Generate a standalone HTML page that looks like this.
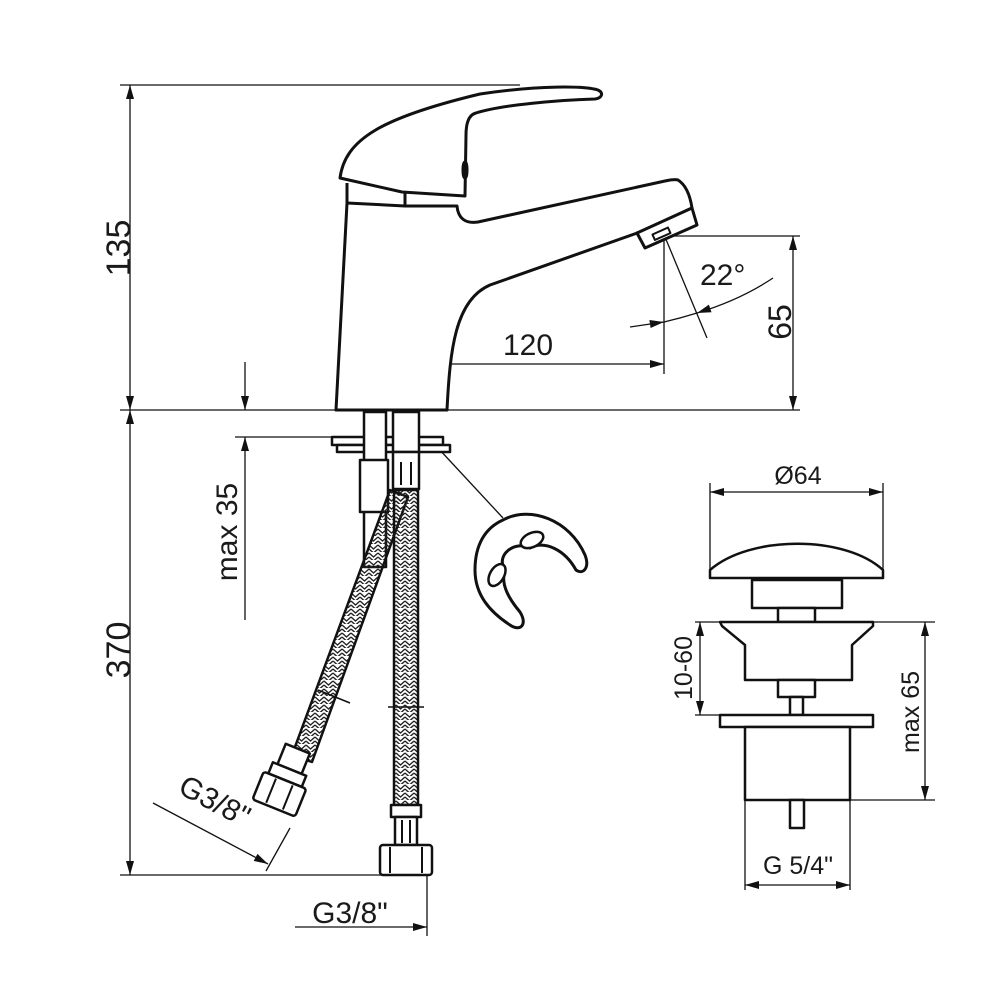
<!DOCTYPE html>
<html><head><meta charset="utf-8"><style>
html,body{margin:0;padding:0;background:#fff}
svg{display:block}
text{font-family:"Liberation Sans","DejaVu Sans",sans-serif;fill:#1a1a1a}
</style></head><body>
<svg width="1000" height="1000" viewBox="0 0 1000 1000" xmlns="http://www.w3.org/2000/svg">
<defs>
<pattern id="br" width="9" height="8" patternUnits="userSpaceOnUse">
<path d="M0,1 L4.5,5 L9,1 M0,5 L4.5,9 L9,5" stroke="#222" stroke-width="1.4" fill="none"/>
</pattern>
</defs>
<g stroke="#111" fill="none" stroke-width="1.3">
<line x1="120" y1="85" x2="520" y2="85"/>
<line x1="130" y1="85" x2="130" y2="410"/>
<line x1="120" y1="410" x2="800" y2="410"/>
<line x1="130" y1="410" x2="130" y2="875"/>
<line x1="120" y1="875" x2="430" y2="875"/>
<line x1="665" y1="236" x2="800" y2="236"/>
<line x1="793" y1="236" x2="793" y2="410"/>
<line x1="390" y1="333" x2="390" y2="374"/>
<line x1="664" y1="237" x2="664" y2="374"/>
<line x1="390" y1="364" x2="664" y2="364"/>
<line x1="665" y1="237" x2="707" y2="338"/>
<line x1="630" y1="327" x2="664" y2="322"/>
<path d="M773,278 Q740,300 697,313"/>
<path d="M664,322 Q681,318 697,313"/>
<line x1="245" y1="362" x2="245" y2="410"/>
<line x1="245" y1="437" x2="245" y2="620"/>
<line x1="235" y1="437" x2="340" y2="437"/>
<line x1="153" y1="803" x2="268" y2="864"/>
<line x1="290" y1="828" x2="266" y2="871"/>
<line x1="427" y1="875" x2="427" y2="936"/>
<line x1="295" y1="927" x2="427" y2="927"/>
<line x1="710" y1="483" x2="710" y2="578"/>
<line x1="883" y1="483" x2="883" y2="578"/>
<line x1="710" y1="492" x2="883" y2="492"/>
<line x1="695" y1="622" x2="935" y2="622"/>
<line x1="695" y1="715" x2="720" y2="715"/>
<line x1="700" y1="622" x2="700" y2="715"/>
<line x1="850" y1="800" x2="935" y2="800"/>
<line x1="925" y1="622" x2="925" y2="800"/>
<line x1="745" y1="800" x2="745" y2="890"/>
<line x1="850" y1="800" x2="850" y2="890"/>
<line x1="745" y1="885" x2="850" y2="885"/>
<line x1="438" y1="448" x2="503" y2="518"/>
</g>
<g fill="#111" stroke="none">
<polygon points="130,85 126,99 134,99"/><polygon points="130,410 126,396 134,396"/>
<polygon points="130,410 126,424 134,424"/><polygon points="130,875 126,861 134,861"/>
<polygon points="793,236 789,250 797,250"/><polygon points="793,410 789,396 797,396"/>
<polygon points="390,364 404,360 404,368"/><polygon points="664,364 650,360 650,368"/>
<polygon points="245,410 241,396 249,396"/><polygon points="245,437 241,451 249,451"/>
<polygon points="664,322 650.6,328 649.4,320"/><polygon points="697,313 711.5,312.2 708.9,304.6"/>
<polygon points="268,864 253.7,860.9 257.5,853.9"/>
<polygon points="427,927 413,923 413,931"/>
<polygon points="710,492 724,488 724,496"/><polygon points="883,492 869,488 869,496"/>
<polygon points="700,622 696,636 704,636"/><polygon points="700,715 696,701 704,701"/>
<polygon points="925,622 921,636 929,636"/><polygon points="925,800 921,786 929,786"/>
<polygon points="745,885 759,881 759,889"/><polygon points="850,885 836,881 836,889"/>
</g>
<g stroke="#111" fill="#fff" stroke-width="3" stroke-linejoin="round">
<!-- body + spout -->
<path d="M347,203 L336,410 L447,410 C450,350 455,300 490,285 L640,232 L692,208 C690,195 686,185 678,180 C674,179 670,180 665,181 L478,222 C465,224 458,218 457,206 L405,206 L347,203 Z"/>
<!-- handle -->
<path d="M340,178 C345,140 380,118 480,94 C540,85 585,86 598,90 C604,93 602,98 595,99 C560,100 500,105 476,113 C468,115 466,125 466,135 L465,196 L402,192 Z"/>
<path d="M347,183 L347,203 M405,193 L405,206" />
<path d="M637,233 L692,208 L697,225 L645,248 Z"/>
<rect x="653" y="231" width="17" height="6" transform="rotate(-24 661 234)" stroke-width="2"/>
<ellipse cx="465" cy="170" rx="2" ry="8" fill="#111"/>
<!-- mounting parts -->
<rect x="332" y="437" width="111" height="8" stroke-width="2.5"/>
<rect x="337" y="445" width="113" height="7" stroke-width="2.5"/>
<rect x="364" y="412" width="22" height="155" stroke-width="2.5"/>
<rect x="360" y="460" width="28" height="52" stroke-width="2.5"/>
<rect x="393" y="412" width="26" height="40" stroke-width="2.5"/>
<rect x="393" y="452" width="26" height="37" stroke-width="2.5"/>
<line x1="401" y1="462" x2="401" y2="485" stroke-width="2"/><line x1="411" y1="462" x2="411" y2="485" stroke-width="2"/>
<!-- diagonal hose -->
<path d="M390,490 L408,497 L312,762 L292,755 Z" fill="url(#br)" stroke-width="2.5"/>
<g transform="rotate(22 280 790)">
<rect x="268" y="745" width="26" height="22" stroke-width="2.5"/>
<rect x="263" y="767" width="36" height="12" stroke-width="2.5"/>
<rect x="258" y="779" width="46" height="30" rx="3" stroke-width="2.5"/>
<line x1="272" y1="781" x2="272" y2="807" stroke-width="2"/><line x1="290" y1="781" x2="290" y2="807" stroke-width="2"/>
</g>
<line x1="318" y1="690" x2="350" y2="703" stroke-width="1.5"/>
<!-- vertical hose -->
<rect x="394" y="490" width="24" height="315" fill="url(#br)" stroke-width="2.5"/>
<line x1="388" y1="707" x2="424" y2="707" stroke-width="1.5"/>
<rect x="391" y="805" width="30" height="12" stroke-width="2.5"/>
<rect x="395" y="817" width="22" height="28" stroke-width="2.5"/>
<line x1="402" y1="820" x2="402" y2="843" stroke-width="2"/><line x1="410" y1="820" x2="410" y2="843" stroke-width="2"/>
<rect x="380" y="845" width="52" height="30" rx="3" stroke-width="2.5"/>
<line x1="390" y1="847" x2="390" y2="873" stroke-width="2"/><line x1="422" y1="847" x2="422" y2="873" stroke-width="2"/>
<!-- wrench -->
<path d="M503,520 C530,505 570,520 585,555 C590,568 583,575 576,570 C565,550 545,540 530,548 C515,540 495,555 505,570 C500,585 510,600 520,612 C528,625 520,632 510,625 C490,612 475,595 475,570 C475,545 485,528 503,520 Z" stroke-width="3"/>
<ellipse cx="532" cy="540" rx="12" ry="7" transform="rotate(-25 532 540)" stroke-width="2.5"/>
<ellipse cx="497" cy="575" rx="7" ry="12" transform="rotate(30 497 575)" stroke-width="2.5"/>
<!-- drain -->
<path d="M710,578 L710,570 C750,535 845,535 883,570 L883,578 Z" stroke-width="2.5"/>
<rect x="752" y="580" width="90" height="28" stroke-width="2.5"/>
<rect x="778" y="608" width="37" height="14" stroke-width="2.5"/>
<path d="M720,622 L873,622 L873,626 L852,645 L852,680 L745,680 L745,645 L722,626 Z" stroke-width="2.5"/>
<rect x="778" y="680" width="37" height="17" stroke-width="2.5"/>
<rect x="790" y="697" width="13" height="18" stroke-width="2.5"/>
<rect x="720" y="715" width="153" height="12" stroke-width="2.5"/>
<rect x="745" y="727" width="105" height="73" stroke-width="2.5"/>
<rect x="790" y="800" width="14" height="28" stroke-width="2.5"/>
</g>
<g font-size="34">
<text transform="translate(130,248) rotate(-90)" text-anchor="middle">135</text>
<text transform="translate(130,650) rotate(-90)" text-anchor="middle">370</text>
<text transform="translate(237,532) rotate(-90)" text-anchor="middle" font-size="30">max 35</text>
<text x="528" y="355" text-anchor="middle" font-size="30">120</text>
<text x="700" y="285" font-size="30">22°</text>
<text transform="translate(791,322) rotate(-90)" text-anchor="middle" font-size="32">65</text>
<text transform="translate(210,810) rotate(28)" text-anchor="middle" font-size="30">G3/8"</text>
<text x="350" y="923" text-anchor="middle" font-size="30">G3/8"</text>
<text x="798" y="484" text-anchor="middle" font-size="25">Ø64</text>
<text transform="translate(692,668) rotate(-90)" text-anchor="middle" font-size="25">10-60</text>
<text transform="translate(919,712) rotate(-90)" text-anchor="middle" font-size="25">max 65</text>
<text x="798" y="874" text-anchor="middle" font-size="25">G 5/4"</text>
</g>
</svg>
</body></html>
